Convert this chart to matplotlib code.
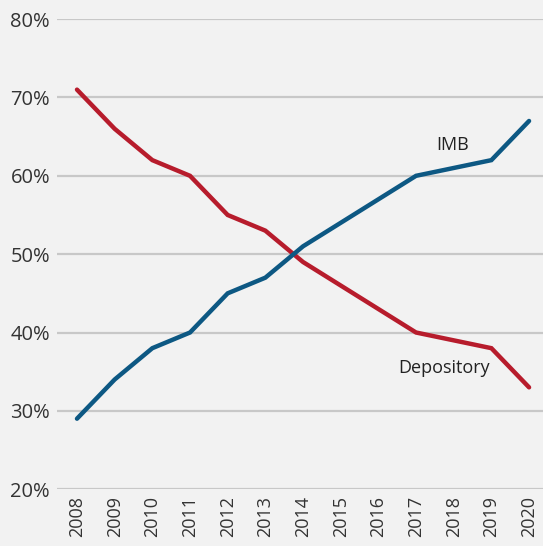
import matplotlib.pyplot as plt

years = [2008, 2009, 2010, 2011, 2012, 2013, 2014, 2015, 2016, 2017, 2018, 2019, 2020]
imb = [29, 34, 38, 40, 45, 47, 51, 54, 57, 60, 61, 62, 67]
depository = [71, 66, 62, 60, 55, 53, 49, 46, 43, 40, 39, 38, 33]
y_ticks = [20, 30, 40, 50, 60, 70, 80]

bg = '#f2f2f2'
red = '#b71c2c'
blue = '#0d5883'

plt.rcParams['font.family'] = ['Open Sans', 'DejaVu Sans']

fig = plt.figure(figsize=(5.43, 5.46), dpi=100, facecolor=bg)
ax = fig.add_axes([0.105, 0.104, 0.895, 0.861], facecolor=bg)

ax.plot(years, depository, color=red, lw=3.2, solid_capstyle='round', solid_joinstyle='miter', clip_on=False, zorder=3)
ax.plot(years, imb, color=blue, lw=3.2, solid_capstyle='round', solid_joinstyle='miter', clip_on=False, zorder=3)

ax.set_xlim(2007.47, 2020.37)
ax.set_ylim(20, 80)
ax.set_yticks(y_ticks)
ax.set_yticklabels([f'{v}%' for v in y_ticks], fontsize=14.5, color='#333333')
ax.set_xticks(years)
ax.set_xticklabels([str(y) for y in years], rotation=90, fontsize=13, color='#333333')
ax.tick_params(axis='both', length=0)
ax.tick_params(axis='y', pad=5)
ax.tick_params(axis='x', pad=5)

ax.grid(axis='y', color='#c8c8c8', lw=1.6, zorder=0)
for s in ax.spines.values():
    s.set_visible(False)

ax.text(2017.96, 63.9, 'IMB', fontsize=13, color='#222222', ha='center', va='center')
ax.text(2017.74, 35.5, 'Depository', fontsize=13, color='#222222', ha='center', va='center')

plt.savefig('out.png', dpi=100, facecolor=bg)
